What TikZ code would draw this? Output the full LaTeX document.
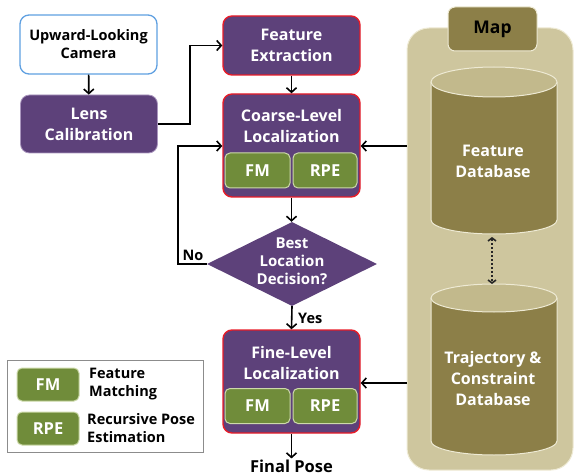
\documentclass[tikz,border=0pt]{standalone}
\usepackage{fontspec}
\setmainfont{Open Sans}
\usetikzlibrary{arrows.meta,shapes.geometric}

\definecolor{procpurple}{RGB}{93,65,122}
\definecolor{procred}{RGB}{232,28,40}
\definecolor{lensedge}{RGB}{170,150,190}
\definecolor{subgreen}{RGB}{112,140,58}
\definecolor{subedge}{RGB}{205,218,170}
\definecolor{maptan}{RGB}{206,198,158}
\definecolor{mapolive}{RGB}{140,127,72}
\definecolor{maptop}{RGB}{194,185,140}
\definecolor{mapedge}{RGB}{238,234,212}
\definecolor{cambord}{RGB}{95,160,225}
\definecolor{legedge}{RGB}{140,140,140}

\tikzset{
  proc/.style={rectangle, rounded corners=9pt, fill=procpurple, draw=procred,
    line width=1.4pt, inner sep=0pt},
  txtw/.style={text=white, font=\bfseries\fontsize{16}{21}\selectfont, align=center, inner sep=0pt},
  txtk/.style={text=black, font=\bfseries\fontsize{14.5}{18}\selectfont, align=center, inner sep=0pt},
  subbox/.style={rectangle, rounded corners=5pt, fill=subgreen, draw=subedge,
    line width=1pt, text=white, font=\bfseries\fontsize{16.5}{18}\selectfont, inner sep=0pt},
  arr/.style={line width=1.6pt, -{Straight Barb[length=4.5pt,width=10pt]}},
  dbtxt/.style={text=white, font=\bfseries\fontsize{16}{21}\selectfont, align=center, inner sep=0pt},
}

\begin{document}
\begin{tikzpicture}[x=1pt,y=-1pt]
\useasboundingbox (0,0) rectangle (576,476);

% ---- map panel with its two databases ----
\node[rectangle, rounded corners=22pt, fill=maptan, draw=mapedge, line width=1pt,
      minimum width=166pt, minimum height=442pt] (map) at (490,249) {};
\node[rectangle, rounded corners=7pt, fill=mapolive, draw=mapedge, line width=1pt,
      minimum width=89pt, minimum height=44pt, text=black,
      font=\bfseries\fontsize{17.5}{20}\selectfont] (maptab) at (492.5,29) {Map};

% feature database cylinder
\fill[mapolive] (431,82) -- (431,220) arc[start angle=180,end angle=360,x radius=63pt,y radius=14pt] -- (557,82) -- cycle;
\draw[mapedge, line width=1pt] (431,82) -- (431,220) arc[start angle=180,end angle=360,x radius=63pt,y radius=14pt] -- (557,82);
\filldraw[fill=maptop, draw=mapedge, line width=1pt] (494,82) ellipse[x radius=63pt, y radius=15pt];
\node[dbtxt] (fdb) at (493,161) {Feature\\Database};

% trajectory & constraint database cylinder
\fill[mapolive] (431,298) -- (431,441) arc[start angle=180,end angle=360,x radius=63pt,y radius=14pt] -- (557,298) -- cycle;
\draw[mapedge, line width=1pt] (431,298) -- (431,441) arc[start angle=180,end angle=360,x radius=63pt,y radius=14pt] -- (557,298);
\filldraw[fill=maptop, draw=mapedge, line width=1pt] (494,298) ellipse[x radius=63pt, y radius=14pt];
\node[dbtxt] (tdb) at (493,378) {Trajectory \&\\Constraint\\Database};

\coordinate (fdbbot) at (492,237);
\coordinate (tdbtop) at (492,284);
\draw[line width=2pt, dotted, black!85, {Straight Barb[length=3pt,width=8pt,line width=1.6pt]}-{Straight Barb[length=3pt,width=8pt,line width=1.6pt]}] (fdbbot) -- (tdbtop);

% ---- processing chain ----
\node[rectangle, rounded corners=9pt, fill=white, draw=cambord, line width=1.3pt,
      minimum width=137pt, minimum height=59pt, txtk] (cam) at (88.5,44.5) {Upward-Looking\\Camera};
\node[rectangle, rounded corners=9pt, fill=procpurple, draw=lensedge, line width=0.8pt,
      minimum width=137pt, minimum height=58pt, txtw] (lens) at (89,124) {Lens\\Calibration};

\node[proc, minimum width=137pt, minimum height=59pt, txtw] (fe) at (291.5,45.5) {Feature\\Extraction};

\node[proc, minimum width=137pt, minimum height=103pt] (coarse) at (291.5,145.5) {};
\node[txtw] (coarsetitle) at (291.5,126.5) {Coarse-Level\\Localization};
\node[subbox, minimum width=65pt, minimum height=35pt] (cfm) at (257.5,170.5) {FM};
\node[subbox, minimum width=64pt, minimum height=35pt] (crpe) at (325,170.5) {RPE};

\node[diamond, fill=procpurple, minimum width=170pt, minimum height=84pt, inner sep=0pt] (decide) at (292,264) {};
\node[text=white, font=\bfseries\fontsize{15}{18}\selectfont, align=center, inner sep=0pt] (decidetxt) at (292,261) {Best\\Location\\Decision?};

\node[proc, minimum width=137pt, minimum height=103pt] (fine) at (291.5,381.5) {};
\node[txtw] (finetitle) at (291.5,362.5) {Fine-Level\\Localization};
\node[subbox, minimum width=65pt, minimum height=35pt] (ffm) at (257.5,406) {FM};
\node[subbox, minimum width=64pt, minimum height=35pt] (frpe) at (325,406) {RPE};

\node[text=black, font=\bfseries\fontsize{16.5}{18}\selectfont, inner sep=1pt] (final) at (291.5,466) {Final Pose};

% ---- connectors ----
\draw[arr] (cam) -- (lens);
\draw[arr] (lens.east) -- ++(32,0) |- (fe.west);
\draw[arr] (fe) -- (coarse);
\draw[arr] (coarse.south) -- (coarse.south |- decide.north);
\coordinate (loop) at (178,146);
\draw[arr] (decide.west) -| (loop) -- (coarse.west |- loop);
\node[txtk] (nolabel) at (193,255) {No};
\draw[arr] (decide.south) -- (fine.north);
\node[txtk, anchor=west] (yeslabel) at (298,318) {Yes};
\draw[arr] (fine.south) -- (final.north);

\coordinate (mapin1) at (407,146);
\coordinate (mapin2) at (407,383);
\draw[arr] (mapin1) -- (coarse.east |- mapin1);
\draw[arr] (mapin2) -- (fine.east |- mapin2);

% ---- legend ----
\node[rectangle, draw=legedge, line width=1pt, minimum width=196pt, minimum height=92pt] (legend) at (105,406) {};
\node[subbox, minimum width=62pt, minimum height=33pt] (lfm) at (48,384.5) {FM};
\node[subbox, minimum width=62pt, minimum height=33pt] (lrpe) at (48,428.5) {RPE};
\node[txtk, align=left, anchor=west] (lfmtxt) at (89,384) {Feature\\Matching};
\node[txtk, align=left, anchor=west] (lrpetxt) at (87,428) {Recursive Pose\\Estimation};
\end{tikzpicture}
\end{document}
